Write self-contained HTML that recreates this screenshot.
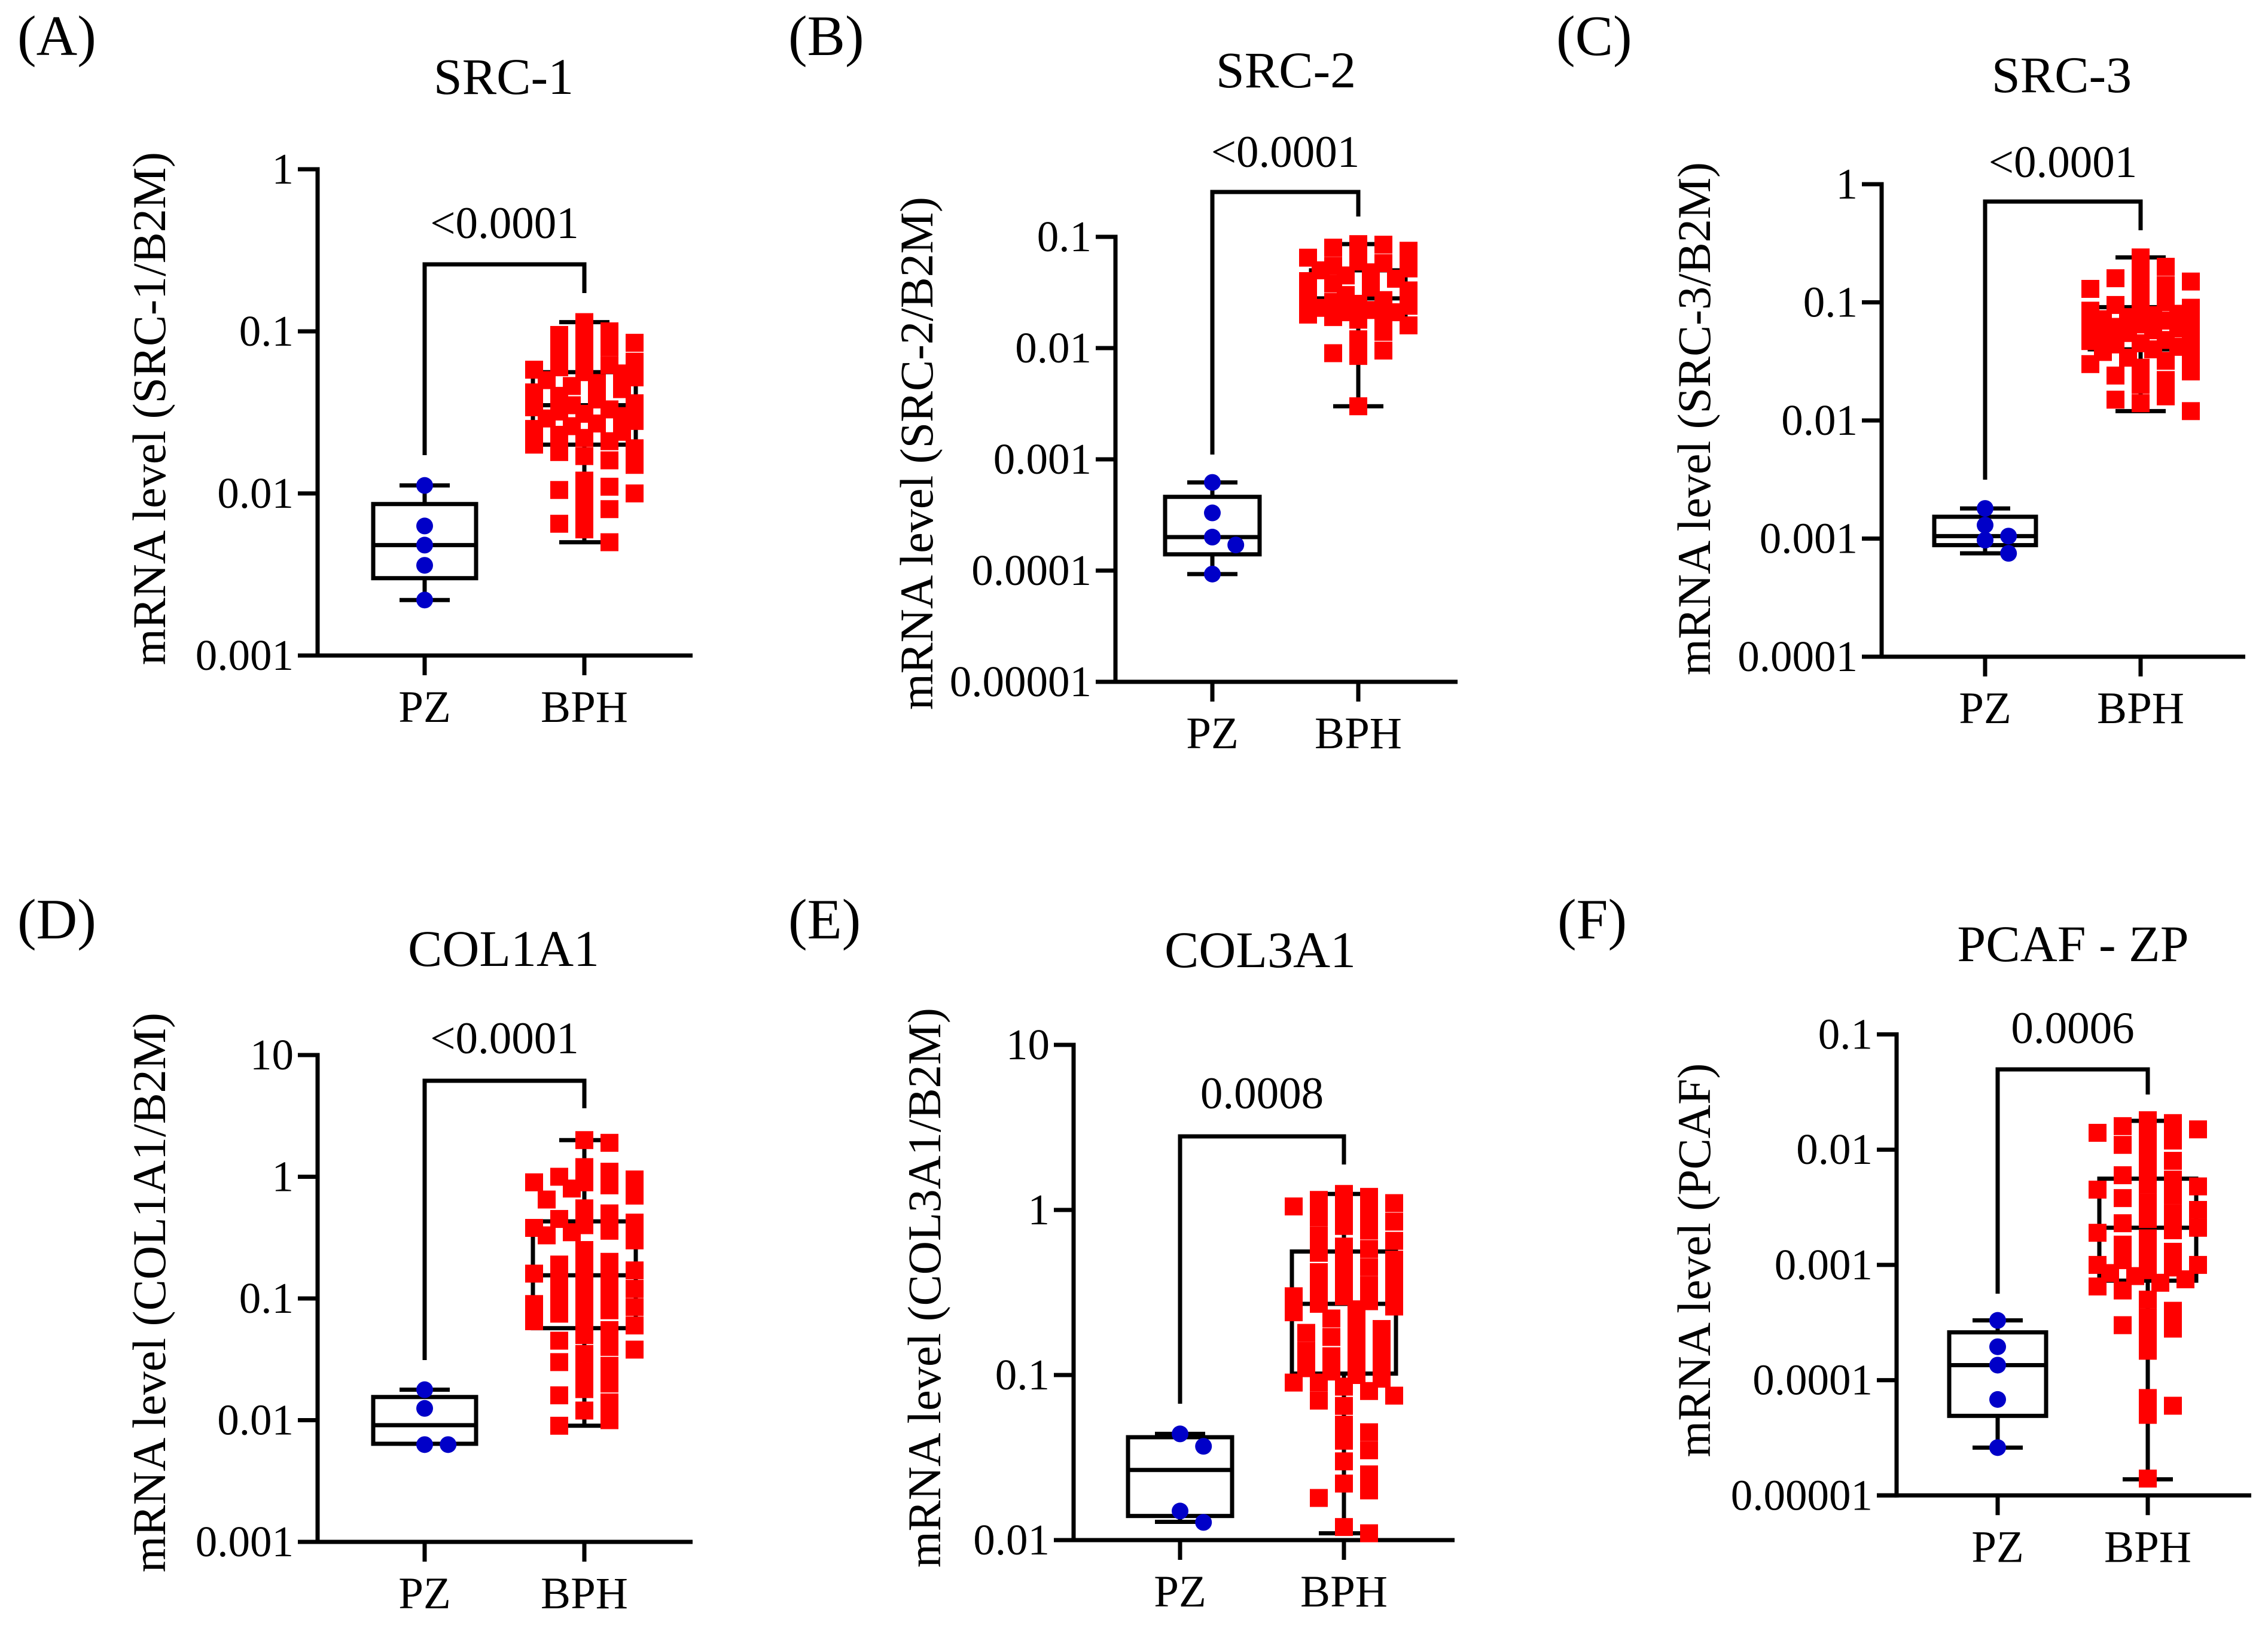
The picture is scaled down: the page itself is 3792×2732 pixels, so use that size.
<!DOCTYPE html>
<html><head><meta charset="utf-8">
<style>
html,body{margin:0;padding:0;background:#fff;}
svg{display:block;}
text{font-family:"Liberation Serif","Times New Roman",serif;fill:#000;}
</style></head>
<body>
<svg id="fig" width="3792" height="2732" viewBox="0 0 3792 2732" xmlns="http://www.w3.org/2000/svg"></svg>
<script>
// ---- data (values in original units) ----
const groupNames = ["PZ", "BPH"];

const pzA = [0.0112, 0.0063, 0.0048, 0.0036, 0.0022];
const bphA = [0.114,0.10,0.095,0.09,0.085,0.08,0.075,0.07,0.065,0.062,0.06,0.058,0.056,0.055,0.052,0.05,0.048,0.046,0.044,0.042,0.04,0.038,0.036,0.035,0.034,0.033,0.032,0.031,0.03,0.029,0.028,0.027,0.026,0.025,0.024,0.023,0.022,0.021,0.02,0.019,0.018,0.017,0.016,0.015,0.012,0.011,0.0105,0.01,0.0095,0.008,0.0075,0.0065,0.006,0.005];
const boxPzA = [0.0022, 0.003, 0.0048, 0.0086, 0.0112];
const boxBphA = [0.005, 0.02, 0.035, 0.056, 0.114];

const pzB = [0.00062, 0.00033, 0.0002, 0.00017, 0.000093];
const bphB = [0.086,0.085,0.08,0.075,0.065,0.06,0.058,0.055,0.052,0.05,0.048,0.045,0.042,0.04,0.038,0.035,0.033,0.03,0.028,0.027,0.026,0.025,0.024,0.023,0.022,0.021,0.021,0.02,0.02,0.019,0.018,0.016,0.014,0.012,0.0095,0.009,0.0085,0.003];
const boxPzB = [0.000093, 0.00014, 0.0002, 0.00046, 0.00062];
const boxBphB = [0.003, 0.02, 0.028, 0.05, 0.086];

const pzC = [0.0018, 0.0013, 0.00105, 0.00097, 0.00075];
const bphC = [0.24,0.2,0.17,0.16,0.15,0.14,0.13,0.12,0.1,0.095,0.09,0.088,0.085,0.08,0.078,0.075,0.072,0.07,0.068,0.065,0.063,0.062,0.06,0.058,0.055,0.052,0.05,0.048,0.047,0.045,0.044,0.042,0.04,0.038,0.036,0.034,0.032,0.03,0.028,0.026,0.024,0.022,0.02,0.016,0.015,0.014,0.012];
const boxPzC = [0.00075, 0.00088, 0.00105, 0.00153, 0.0018];
const boxBphC = [0.012, 0.04, 0.063, 0.091, 0.24];

const pzD = [0.0178, 0.0125, 0.0063, 0.0063];
const bphD = [2.0,1.9,1.2,1.1,1.0,0.95,0.9,0.9,0.85,0.8,0.7,0.65,0.55,0.5,0.45,0.42,0.4,0.38,0.36,0.35,0.33,0.3,0.25,0.2,0.19,0.18,0.17,0.16,0.15,0.14,0.13,0.12,0.11,0.1,0.095,0.09,0.085,0.08,0.075,0.07,0.065,0.06,0.055,0.05,0.045,0.04,0.038,0.035,0.03,0.028,0.025,0.02,0.018,0.016,0.014,0.012,0.01,0.009];
const boxPzD = [0.0064, 0.0064, 0.0091, 0.0155, 0.0178];
const boxBphD = [0.009, 0.057, 0.155, 0.43, 2.0];

const pzE = [0.044, 0.037, 0.015, 0.0128];
const bphE = [1.25,1.2,1.15,1.1,1.05,1.0,0.95,0.9,0.85,0.8,0.75,0.7,0.65,0.6,0.58,0.55,0.5,0.48,0.45,0.42,0.4,0.38,0.35,0.33,0.32,0.3,0.3,0.28,0.27,0.26,0.25,0.24,0.22,0.2,0.19,0.18,0.17,0.16,0.15,0.14,0.13,0.125,0.12,0.11,0.105,0.1,0.095,0.09,0.09,0.085,0.08,0.075,0.07,0.065,0.05,0.045,0.04,0.035,0.03,0.025,0.022,0.02,0.018,0.012,0.011];
const boxPzE = [0.0129, 0.014, 0.0266, 0.042, 0.044];
const boxBphE = [0.011, 0.102, 0.27, 0.56, 1.25];

const pzF = [0.00033, 0.000195, 0.000135, 0.000068, 0.000026];
const bphF = [0.018,0.017,0.016,0.015,0.014,0.013,0.012,0.011,0.0095,0.008,0.007,0.006,0.0055,0.005,0.0048,0.0045,0.004,0.0038,0.0035,0.003,0.0028,0.0025,0.0023,0.0021,0.002,0.0019,0.0017,0.0015,0.0013,0.0012,0.0011,0.001,0.001,0.00095,0.0009,0.00085,0.0008,0.00075,0.0007,0.00065,0.0006,0.0005,0.0004,0.00035,0.0003,0.00028,0.00025,0.00018,0.00007,0.00006,0.00005,0.000014];
const boxPzF = [0.000026, 0.000049, 0.000135, 0.00026, 0.00033];
const boxBphF = [0.0000138, 0.00073, 0.0021, 0.0056, 0.0178];

const ticksA = ["1","0.1","0.01","0.001"];
const ticksB = ["0.1","0.01","0.001","0.0001","0.00001"];
const ticksC = ["1","0.1","0.01","0.001","0.0001"];
const ticksD = ["10","1","0.1","0.01","0.001"];
const ticksE = ["10","1","0.1","0.01"];
const ticksF = ["0.1","0.01","0.001","0.0001","0.00001"];

const pvalues = ["<0.0001","<0.0001","<0.0001","<0.0001","0.0008","0.0006"];
const titles = ["SRC-1","SRC-2","SRC-3","COL1A1","COL3A1","PCAF - ZP"];

// ---- layout ----
const panels = [
 {id:"a",label:"(A)",lx:29,ly:92,ax:531,topExp:0,topY:283,dec:271,xEnd:1158,pz:710,bph:977,hw:86,bt:442,bl:761,br:490,py:398,tx:842,ty:157,ylx:250,yly:683,ylab:"mRNA level (SRC-1/B2M)",ticks:ticksA,pzv:pzA,bphv:bphA,bpz:boxPzA,bbph:boxBphA},
 {id:"b",label:"(B)",lx:1318,ly:92,ax:1865,topExp:-1,topY:396,dec:186,xEnd:2437,pz:2027,bph:2271,hw:79,bt:321,bl:760,br:362,py:279,tx:2150,ty:146,ylx:1533,yly:758,ylab:"mRNA level (SRC-2/B2M)",ticks:ticksB,pzv:pzB,bphv:bphB,bpz:boxPzB,bbph:boxBphB},
 {id:"c",label:"(C)",lx:2602,ly:92,ax:3146,topExp:0,topY:308,dec:197.5,xEnd:3754,pz:3319,bph:3579,hw:85,bt:337,bl:802,br:385,py:296,tx:3447,ty:154,ylx:2833,yly:700,ylab:"mRNA level (SRC-3/B2M)",ticks:ticksC,pzv:pzC,bphv:bphC,bpz:boxPzC,bbph:boxBphC},
 {id:"d",label:"(D)",lx:29,ly:1569,ax:531,topExp:1,topY:1764,dec:203.5,xEnd:1158,pz:710,bph:977,hw:86,bt:1807,bl:2274,br:1853,py:1761,tx:842,ty:1615,ylx:250,yly:2161,ylab:"mRNA level (COL1A1/B2M)",ticks:ticksD,pzv:pzD,bphv:bphD,bpz:boxPzD,bbph:boxBphD},
 {id:"e",label:"(E)",lx:1318,ly:1569,ax:1795,topExp:1,topY:1747,dec:276,xEnd:2432,pz:1973,bph:2247,hw:87,bt:1900,bl:2347,br:1947,py:1853,tx:2107,ty:1617,ylx:1546,yly:2153,ylab:"mRNA level (COL3A1/B2M)",ticks:ticksE,pzv:pzE,bphv:bphE,bpz:boxPzE,bbph:boxBphE},
 {id:"f",label:"(F)",lx:2604,ly:1569,ax:3171,topExp:-1,topY:1729.5,dec:192.7,xEnd:3764,pz:3340,bph:3591,hw:81,bt:1788,bl:2163,br:1830,py:1744,tx:3466,ty:1607,ylx:2833,yly:2107,ylab:"mRNA level (PCAF)",ticks:ticksF,pzv:pzF,bphv:bphF,bpz:boxPzF,bbph:boxBphF}
];

const NS = "http://www.w3.org/2000/svg";
const svg = document.getElementById("fig");
function mk(tag, attrs, parent){
  const e = document.createElementNS(NS, tag);
  for (const k in attrs) e.setAttribute(k, attrs[k]);
  (parent||svg).appendChild(e);
  return e;
}
const LW = 7, SQ = 30, CR = 14;

function swarm(ys, size, maxOff){
  const placed = [];
  const order = ys.map((y,i)=>i).sort((a,b)=>ys[a]-ys[b]);
  const offs = new Array(ys.length).fill(0);
  const step = size*0.7;
  for (const i of order){
    let best = 0, bestOv = Infinity;
    for (let k=0;k<20;k++){
      const o = (k===0)?0:((k%2)?1:-1)*Math.ceil(k/2)*step;
      if (Math.abs(o) > maxOff) break;
      let ov = 0;
      for (const p of placed){
        const dy = Math.abs(p.y-ys[i]), dx = Math.abs(p.x-o);
        if (dy < size*0.85 && dx < size*0.85) ov += (size*0.85-dy)*(size*0.85-dx);
      }
      if (ov < bestOv){ bestOv = ov; best = o; }
      if (ov === 0) break;
    }
    offs[i] = best;
    placed.push({x:best,y:ys[i]});
  }
  return offs;
}

panels.forEach((P, pi) => {
  const g = mk("g", {});
  
  
  const yScale = v => P.topY + (P.topExp - Math.log10(v)) * P.dec;
  const nT = P.ticks.length;
  const bottomY = P.topY + (nT-1)*P.dec;

  const lab = mk("text", {x:P.lx, y:P.ly, "font-size":95}, g);
  lab.textContent = P.label;
  
  

  const tt = mk("text", {x:P.tx, y:P.ty, "font-size":86, "text-anchor":"middle"}, g);
  tt.textContent = titles[pi];
  
  

  const yl = mk("text", {x:0, y:0, "font-size":78, "text-anchor":"middle", transform:`translate(${P.ylx+26},${P.yly}) rotate(-90)`}, g);
  yl.textContent = P.ylab;
  
  

  const yax = mk("line", {x1:P.ax, y1:P.topY-3.5, x2:P.ax, y2:bottomY+3.5, stroke:"#000","stroke-width":LW}, g);
  
  
  const xax = mk("line", {x1:P.ax-33, y1:bottomY, x2:P.xEnd, y2:bottomY, stroke:"#000","stroke-width":LW}, g);
  
  

  P.ticks.forEach((t, i) => {
    const ty = P.topY + i*P.dec;
    const tk = mk("line", {x1:P.ax-33, y1:ty, x2:P.ax, y2:ty, stroke:"#000","stroke-width":LW}, g);
    
    
    const tl = mk("text", {x:P.ax-40, y:ty+24, "font-size":73, "text-anchor":"end"}, g);
    tl.textContent = t;
    
    
  });

  const xs = [P.pz, P.bph];
  groupNames.forEach((gn, gi) => {
    const tk = mk("line", {x1:xs[gi], y1:bottomY, x2:xs[gi], y2:bottomY+33, stroke:"#000","stroke-width":LW}, g);
    
    
    const tl = mk("text", {x:xs[gi], y:bottomY+111, "font-size":75, "text-anchor":"middle"}, g);
    tl.textContent = gn;
    
    
  });

  [P.bpz, P.bbph].forEach((b, gi) => {
    const cx = xs[gi];
    const bg = mk("g", {fill:"none", stroke:"#000", "stroke-width":LW}, g);
    
    
    const [mn,q1,md,q3,mx] = b.map(yScale);
    mk("line", {x1:cx, y1:mx, x2:cx, y2:q3}, bg);
    mk("line", {x1:cx, y1:q1, x2:cx, y2:mn}, bg);
    mk("line", {x1:cx-42, y1:mx, x2:cx+42, y2:mx}, bg);
    mk("line", {x1:cx-42, y1:mn, x2:cx+42, y2:mn}, bg);
    mk("rect", {x:cx-P.hw, y:q3, width:2*P.hw, height:Math.max(q1-q3,1)}, bg);
    mk("line", {x1:cx-P.hw, y1:md, x2:cx+P.hw, y2:md}, bg);
  });

  const pzY = P.pzv.map(yScale);
  const pzOff = swarm(pzY, CR*2, 40);
  P.pzv.forEach((v, i) => {
    const c = mk("circle", {cx:P.pz + pzOff[i], cy:pzY[i], r:CR, fill:"#0000c8"}, g);
    
    
  });
  const bY = P.bphv.map(yScale);
  const bOff = swarm(bY, SQ, P.hw + 8);
  P.bphv.forEach((v, i) => {
    const s = mk("rect", {x:P.bph + bOff[i] - SQ/2, y:bY[i]-SQ/2, width:SQ, height:SQ, fill:"#ff0000"}, g);
    
    
  });

  const br = mk("polyline", {points:`${P.pz},${P.bl} ${P.pz},${P.bt} ${P.bph},${P.bt} ${P.bph},${P.br}`, fill:"none", stroke:"#000", "stroke-width":LW}, g);
  
  
  const pt = mk("text", {x:(P.pz+P.bph)/2, y:P.py, "font-size":75, "text-anchor":"middle"}, g);
  pt.textContent = pvalues[pi];
  
  
});
</script>
</body></html>
